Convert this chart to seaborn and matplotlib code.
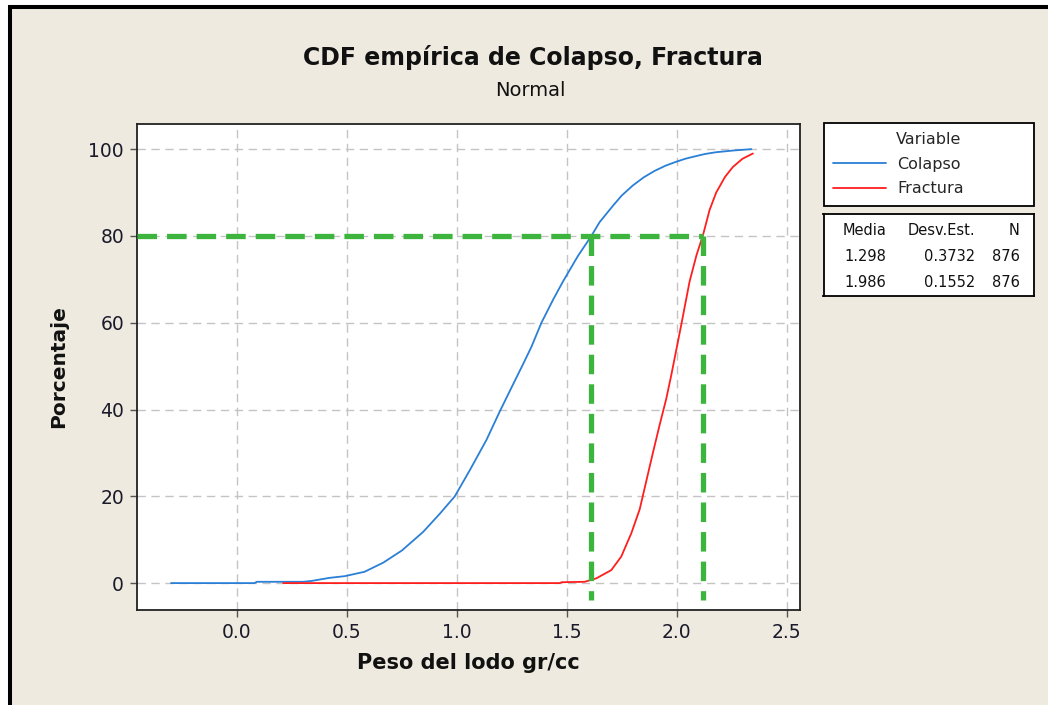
import matplotlib
matplotlib.use("Agg")
import matplotlib.pyplot as plt
import pandas as pd
import seaborn as sns
from matplotlib.patches import Rectangle

# Empirical CDF points (mud weight gr/cc, cumulative percent)
colapso_x = [-0.30, 0.08, 0.09, 0.30, 0.34, 0.42, 0.49, 0.58, 0.665, 0.75,
             0.847, 0.923, 0.991, 1.059, 1.135, 1.195, 1.256, 1.30, 1.34,
             1.385, 1.44, 1.483, 1.55, 1.612, 1.65, 1.711, 1.75, 1.80, 1.85,
             1.90, 1.95, 1.998, 2.04, 2.08, 2.13, 2.18, 2.26, 2.34]
colapso_pct = [0.0, 0.0, 0.3, 0.3, 0.5, 1.2, 1.6, 2.6, 4.7, 7.5,
               11.8, 16.0, 20.0, 26.0, 33.0, 39.5, 45.8, 50.3, 54.5,
               60.0, 65.5, 69.5, 75.3, 80.0, 83.2, 87.0, 89.3, 91.6, 93.5,
               95.0, 96.2, 97.1, 97.8, 98.3, 98.9, 99.3, 99.7, 100.0]

fractura_x = [0.21, 1.468, 1.477, 1.582, 1.635, 1.703, 1.748, 1.794, 1.832,
              1.862, 1.892, 1.923, 1.953, 1.976, 2.021, 2.059, 2.09, 2.12,
              2.15, 2.18, 2.22, 2.256, 2.30, 2.347]
fractura_pct = [0.0, 0.0, 0.2, 0.3, 1.1, 3.0, 6.1, 11.5, 17.0,
                23.5, 30.0, 36.5, 42.5, 48.0, 59.5, 69.5, 75.5, 80.2,
                86.0, 90.0, 93.6, 95.9, 97.8, 99.0]

variables = ["Colapso", "Fractura"]
media = [1.298, 1.986]
desv_est = [0.3732, 0.1552]
n_obs = [876, 876]

# 80th percentile reference
ref_pct = 80
ref_x = [1.61, 2.12]

xticks = [0.0, 0.5, 1.0, 1.5, 2.0, 2.5]
yticks = [0, 20, 40, 60, 80, 100]

df = pd.concat([
    pd.DataFrame({"Peso": colapso_x, "Porcentaje": colapso_pct, "Variable": "Colapso"}),
    pd.DataFrame({"Peso": fractura_x, "Porcentaje": fractura_pct, "Variable": "Fractura"}),
], ignore_index=True)

sns.set_style("ticks")
plt.rcParams["font.family"] = ["DejaVu Sans"]

W, H = 1048, 705
fig = plt.figure(figsize=(W / 100, H / 100), dpi=100, facecolor="white")

# beige panel with black frame on top/left
fig.add_artist(Rectangle((10 / W, -0.1), 1.2, 1.1 - 7 / H,
                         transform=fig.transFigure, facecolor="#eeeae0",
                         edgecolor="black", linewidth=2.9, zorder=0))

ax = fig.add_axes([136.5 / W, 1 - 610 / H, 663 / W, 486 / H])
ax.set_facecolor("white")

palette = {"Colapso": "#2a7fd6", "Fractura": "#ff1e1e"}
sns.lineplot(data=df, x="Peso", y="Porcentaje", hue="Variable", palette=palette,
             estimator=None, sort=False, linewidth=1.3, ax=ax, zorder=3)

xlim = (-0.457, 2.559)
ylim = (-6.2, 105.8)
ax.set_xlim(xlim)
ax.set_ylim(ylim)

green = "#3db43d"
gkw = dict(color=green, linewidth=3.8, dashes=(3.7, 1.9), solid_capstyle="butt",
           dash_capstyle="butt", zorder=4)
ax.plot([xlim[0], ref_x[1]], [ref_pct, ref_pct], **gkw)
for xv in ref_x:
    ax.plot([xv, xv], [ref_pct, -4], **gkw)

ax.set_xticks(xticks)
ax.set_xticklabels([f"{v:.1f}" for v in xticks])
ax.set_yticks(yticks)
ax.grid(True, color="#c4c4c4", linestyle=(0, (6, 4)), linewidth=1.0)
ax.tick_params(axis="both", direction="out", length=5, width=1, color="#555555",
               labelsize=13.5, labelcolor="#1a1a2a", pad=4)
for s in ax.spines.values():
    s.set_color("#222222")
    s.set_linewidth(1.3)

ax.set_xlabel("Peso del lodo gr/cc", fontsize=15, fontweight="bold", color="#111111")
ax.set_ylabel("Porcentaje", fontsize=14.5, fontweight="bold", color="#111111")
ax.xaxis.set_label_coords(0.5, -0.088)
ax.yaxis.set_label_coords(-0.103, 0.5)

fig.text(533 / W, 1 - 58 / H, "CDF empírica de Colapso, Fractura", ha="center",
         va="center", fontsize=17, fontweight="bold", color="#111111")
fig.text(530 / W, 1 - 90 / H, "Normal", ha="center", va="center", fontsize=14,
         color="#111111")

sns.move_legend(ax, "upper left",
                bbox_to_anchor=(823.5 / W, 1 - 122.5 / H, 210 / W, 0),
                bbox_transform=fig.transFigure, mode="expand", borderaxespad=0,
                frameon=True, fancybox=False, edgecolor="black", framealpha=1,
                fontsize=11.5, title_fontsize=11.5, handlelength=3.3,
                handletextpad=0.7, labelspacing=0.6, borderpad=0.6)
leg = ax.get_legend()
leg.get_frame().set_linewidth(1.3)
for ln in leg.get_lines():
    ln.set_linewidth(1.3)

# summary statistics box
sax = fig.add_axes([823.5 / W, 1 - 295.5 / H, 210 / W, 82 / H])
sax.set_xlim(823.5, 1033.5)
sax.set_ylim(295.5, 213.5)
sax.set_xticks([])
sax.set_yticks([])
sax.set_facecolor("white")
for s in sax.spines.values():
    s.set_color("black")
    s.set_linewidth(1.3)
col_right = [886.5, 975.5, 1019.5]
header = ["Media", "Desv.Est.", "N"]
row_y = [230, 256, 282]
tkw = dict(ha="right", va="center", fontsize=10.5, color="#111111")
for xr, h in zip(col_right, header):
    sax.text(xr, row_y[0], h, **tkw)
for i in range(len(variables)):
    vals = [f"{media[i]:.3f}", f"{desv_est[i]:.4f}", f"{n_obs[i]}"]
    for xr, v in zip(col_right, vals):
        sax.text(xr, row_y[i + 1], v, **tkw)

fig.savefig("out.png", dpi=100, facecolor=fig.get_facecolor())
